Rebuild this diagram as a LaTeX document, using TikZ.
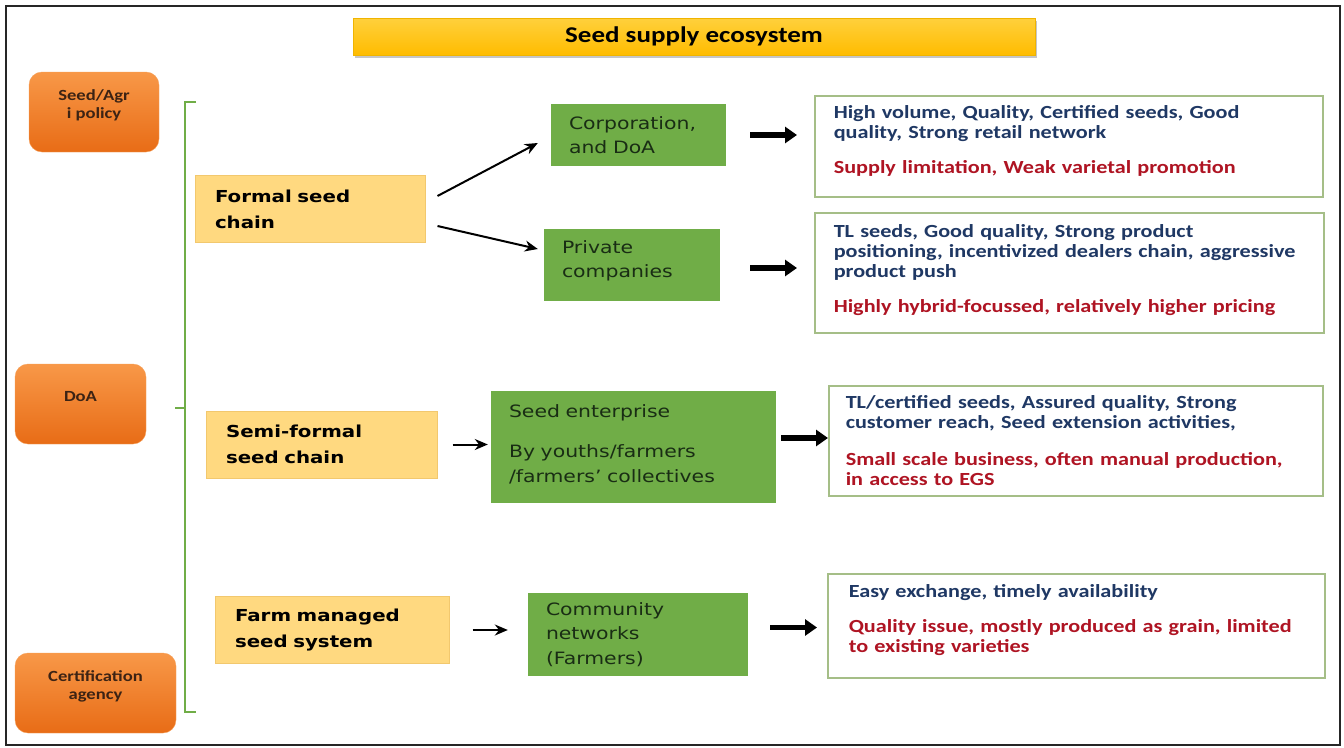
\documentclass[tikz,border=0pt]{standalone}
\usepackage{fontspec}
\setmainfont{Carlito}[FakeStretch=1.2]
\newfontfamily\verdfont{DejaVu Sans}[FakeStretch=1.2]
\usetikzlibrary{arrows.meta,shadows}

\definecolor{leafgreen}{RGB}{112,173,71}
\definecolor{notenavy}{RGB}{31,56,100}
\definecolor{notered}{RGB}{175,20,35}
\definecolor{notegray}{RGB}{165,190,135}
\definecolor{chainfill}{RGB}{255,217,128}
\definecolor{chainline}{RGB}{242,200,110}
\definecolor{actortext}{RGB}{25,45,20}
\definecolor{agencytext}{RGB}{60,35,20}

\tikzset{
  headbox/.style={top color={rgb,255:red,255;green,208;blue,60},
    bottom color={rgb,255:red,255;green,188;blue,0}, draw={rgb,255:red,240;green,180;blue,0},
    drop shadow={shadow xshift=2pt, shadow yshift=-3pt, opacity=0.45},
    minimum width=682pt, minimum height=37pt, inner sep=0pt,
    font=\bfseries\fontsize{22.5}{26}\selectfont},
  agency/.style={rounded corners=13pt, top color={rgb,255:red,248;green,152;blue,72},
    bottom color={rgb,255:red,232;green,108;blue,22}, draw={rgb,255:red,245;green,160;blue,90},
    minimum height=80pt, align=center, text=agencytext, text depth=16pt,
    font=\bfseries\fontsize{15.5}{18}\selectfont},
  chainbox/.style={fill=chainfill, draw=chainline, line width=1pt, inner xsep=20pt,
    minimum height=67pt, align=left, font=\verdfont\bfseries\fontsize{16.5}{26}\selectfont},
  actorbox/.style={fill=leafgreen, inner xsep=18pt, align=left, text=actortext,
    font=\verdfont\fontsize{17}{24.5}\selectfont},
  notebox/.style={draw=notegray, line width=1.5pt, fill=white, inner xsep=19pt,
    anchor=north west, align=left, font=\bfseries\fontsize{18.5}{20}\selectfont},
  thinarrow/.style={-{Stealth[length=13pt,width=11pt]}, line width=2pt},
  fatarrow/.style={-{Triangle[length=12pt,width=16pt]}, line width=5.5pt},
  bracket/.style={draw=leafgreen, line width=2.5pt}
}

\begin{document}
\begin{tikzpicture}[x=1pt,y=-1pt]
  \useasboundingbox (0,0) rectangle (1344,747);
  % outer frame
  \draw[black!85, line width=2pt] (6,6) rectangle (1340,745);

  % heading
  \node[headbox] (title) at (694,36.5) {Seed supply ecosystem};

  % agencies on the left
  \node[agency, minimum width=130pt] (agripolicy) at (94,112) {Seed/Agr\\i policy};
  \node[agency, minimum width=131pt] (doa) at (80.5,404) {DoA};
  \node[agency, minimum width=161pt] (certagency) at (95.5,693) {Certification\\agency};

  % bracket
  \draw[bracket] (196,102) -- (185,102) -- (185,712) -- (196,712);
  \draw[bracket] (185,408) -- (175,408);

  % seed chains
  \node[chainbox, text width=190pt] (formal) at (310,209) {Formal seed\\chain};
  \node[chainbox, text width=191pt] (semiformal) at (321.5,444.5) {Semi-formal\\seed chain};
  \node[chainbox, text width=194pt] (farmmanaged) at (332,630) {Farm managed\\seed system};

  % actors
  \node[actorbox, text width=139pt, minimum height=62pt] (corpdoa) at (638.5,135) {Corporation,\\and DoA};
  \node[actorbox, text width=140pt, minimum height=72pt] (privatecos) at (632,265) {Private\\companies\par\vspace{8pt}};
  \node[actorbox, text width=249pt, minimum height=112pt] (seedent) at (633.5,447)
    {Seed enterprise\\[16pt]By youths/farmers\\/farmers’ collectives\par\vspace{6pt}};
  \node[actorbox, text width=184pt, minimum height=83pt] (community) at (638,634.5)
    {Community\\networks\\(Farmers)};

  % notes
  \node[notebox, text width=470pt, minimum height=101pt] (notecorp) at (814,95)
    {\color{notenavy}High volume, Quality, Certified seeds, Good\\quality, Strong retail network\\[15pt]
     \color{notered}Supply limitation, Weak varietal promotion\par\vspace{10pt}};
  \node[notebox, text width=471pt, minimum height=120pt] (notepriv) at (814,212)
    {\color{notenavy}TL seeds, Good quality, Strong product\\positioning, incentivized dealers chain, aggressive\\product push\\[15pt]
     \color{notered}Highly hybrid-focussed, relatively higher pricing\par\vspace{6pt}};
  \node[notebox, inner xsep=17pt, text width=460pt, minimum height=110pt] (noteent) at (828,385)
    {\color{notenavy}TL/certified seeds, Assured quality, Strong\\customer reach, Seed extension activities,\\[17pt]
     \color{notered}Small scale business, often manual production,\\in access to EGS};
  \node[notebox, inner xsep=21pt, text width=455pt, minimum height=104pt] (notecomm) at (827,573)
    {\color{notenavy}Easy exchange, timely availability\\[15pt]
     \color{notered}Quality issue, mostly produced as grain, limited\\to existing varieties\par\vspace{12pt}};

  % arrows
  \draw[thinarrow] ([xshift=12pt,yshift=13pt]formal.east) -- ([xshift=-13pt,yshift=-8pt]corpdoa.west);
  \draw[thinarrow] ([xshift=12pt,yshift=-17pt]formal.east) -- ([xshift=-6pt,yshift=16pt]privatecos.west);
  \draw[thinarrow, shorten <=15pt, shorten >=3pt] (semiformal.east) -- (semiformal.east -| seedent.west);
  \draw[thinarrow, shorten <=23pt, shorten >=20pt] (farmmanaged.east) -- (farmmanaged.east -| community.west);
  \draw[fatarrow, shorten <=24pt, shorten >=17pt] (corpdoa.east) -- (corpdoa.east -| notecorp.west);
  \draw[fatarrow, shorten <=30pt, shorten >=17pt] ([yshift=-3pt]privatecos.east) -- ([yshift=-3pt]privatecos.east -| notepriv.west);
  \draw[fatarrow, shorten <=5pt, shorten >=0pt] ([yshift=9pt]seedent.east) -- ([yshift=9pt]seedent.east -| noteent.west);
  \draw[fatarrow, shorten <=22pt, shorten >=10pt] ([yshift=7pt]community.east) -- ([yshift=7pt]community.east -| notecomm.west);
\end{tikzpicture}
\end{document}
